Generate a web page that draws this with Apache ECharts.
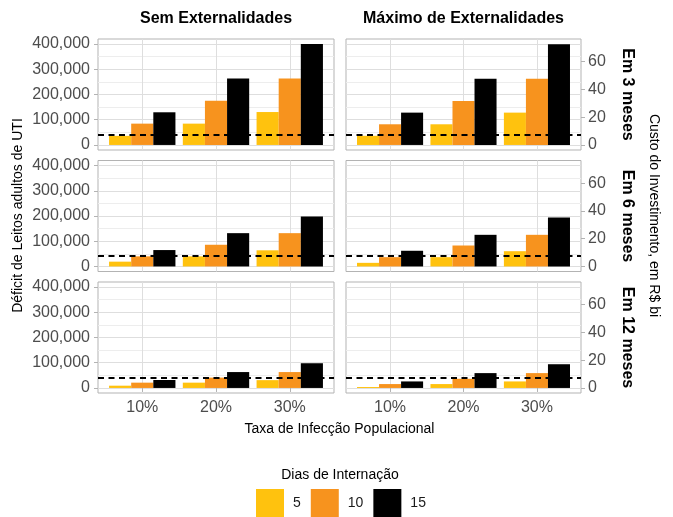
<!DOCTYPE html>
<html><head><meta charset="utf-8">
<script src="https://cdn.jsdelivr.net/npm/echarts@6/dist/echarts.min.js"></script>
<style>html,body{margin:0;padding:0;background:#fff}#c{width:673px;height:517px}</style>
</head><body><div id="c"></div>
<script>
// ---------------- data ----------------
const xCategories = ['10%', '20%', '30%'];
const xPositions = [1, 2, 3];
const seriesNames = ['5', '10', '15'];           // Dias de Internação
const rowLabels = ['Em 3 meses', 'Em 6 meses', 'Em 12 meses'];
const colLabels = ['Sem Externalidades', 'Máximo de Externalidades'];

// Sem Externalidades – déficit de leitos (leitos)
const sem3m_d5  = [36000, 84500, 130500];
const sem3m_d10 = [84500, 175000, 263000];
const sem3m_d15 = [129500, 263000, 400000];
const sem6m_d5  = [19000, 40000, 64000];
const sem6m_d10 = [40000, 86000, 132000];
const sem6m_d15 = [65000, 132000, 198000];
const sem12m_d5  = [9000, 21000, 31000];
const sem12m_d10 = [21000, 41000, 63000];
const sem12m_d15 = [31500, 63000, 98000];

// Máximo de Externalidades – custo do investimento (R$ bi)
const max3m_d5  = [6.6, 14.9, 23.3];
const max3m_d10 = [14.9, 31.7, 47.8];
const max3m_d15 = [23.3, 47.8, 72.5];
const max6m_d5  = [2.6, 6.7, 11.0];
const max6m_d10 = [6.7, 15.1, 22.8];
const max6m_d15 = [11.3, 22.8, 35.3];
const max12m_d5  = [0.7, 2.8, 4.7];
const max12m_d10 = [2.8, 6.6, 10.7];
const max12m_d15 = [4.7, 10.7, 17.1];

const dashLineBeds = 42000;            // linha tracejada (leitos)
const bedsPerBillion = 5500;           // eixo secundário: leitos por R$ bi

const leftTickValues = [0, 100000, 200000, 300000, 400000];
const leftTickLabels = ['0', '100,000', '200,000', '300,000', '400,000'];
const leftMinorValues = [50000, 150000, 250000, 350000];
const rightTickValues = [0, 20, 40, 60];
const rightTickLabels = ['0', '20', '40', '60'];

const semData = [[sem3m_d5, sem3m_d10, sem3m_d15], [sem6m_d5, sem6m_d10, sem6m_d15], [sem12m_d5, sem12m_d10, sem12m_d15]];
const maxData = [[max3m_d5, max3m_d10, max3m_d15], [max6m_d5, max6m_d10, max6m_d15], [max12m_d5, max12m_d10, max12m_d15]];

// ---------------- layout / style ----------------
const FONT = '"Liberation Sans", Arial, Helvetica, sans-serif';
const colors = ['#FFC20E', '#F7931E', '#000000'];
const yMin = -20000, yMax = 420000;
const colLeft = [98, 346], colWidth = [236, 235];
const rowTop = [39, 160.5, 282], rowH = 111;

const grids = [], xAxes = [], yAxes = [], series = [];

for (let r = 0; r < 3; r++) {
  for (let c = 0; c < 2; c++) {
    const gi = grids.length;
    grids.push({left: colLeft[c], top: rowTop[r], width: colWidth[c], height: rowH,
      show: true, borderColor: '#B3B3B3', borderWidth: 1, backgroundColor: '#fff'});
    xAxes.push({type: 'value', gridIndex: gi, min: 0.4, max: 3.6,
      axisLine: {show: false},
      axisTick: {show: r === 2, customValues: xPositions, length: 4, lineStyle: {color: '#B3B3B3'}},
      axisLabel: {show: r === 2, customValues: xPositions, margin: 7, color: '#4D4D4D', fontSize: 16, fontFamily: FONT,
        formatter: v => xCategories[xPositions.indexOf(v)]},
      splitLine: {show: true, lineStyle: {color: '#DEDEDE', width: 1}}});
    const idxA = yAxes.length;
    yAxes.push({type: 'value', gridIndex: gi, position: 'left', min: yMin, max: yMax,
      axisLine: {show: false},
      axisTick: {show: c === 0, customValues: leftTickValues, length: 4, lineStyle: {color: '#B3B3B3'}},
      axisLabel: {show: c === 0, customValues: leftTickValues, margin: 8, color: '#4D4D4D', fontSize: 16, fontFamily: FONT,
        formatter: v => leftTickLabels[leftTickValues.indexOf(v)]},
      splitLine: {show: true, lineStyle: {color: '#DEDEDE', width: 1}}});
    yAxes.push({type: 'value', gridIndex: gi, position: 'left', min: yMin, max: yMax,
      axisLine: {show: false},
      axisTick: {show: false, customValues: leftMinorValues},
      axisLabel: {show: false, customValues: leftMinorValues},
      splitLine: {show: true, lineStyle: {color: '#EDEDED', width: 1}}});
    let idxC = -1;
    if (c === 1) {
      idxC = yAxes.length;
      yAxes.push({type: 'value', gridIndex: gi, position: 'right', min: yMin / bedsPerBillion, max: yMax / bedsPerBillion,
        axisLine: {show: false},
        axisTick: {show: true, customValues: rightTickValues, length: 4, lineStyle: {color: '#B3B3B3'}},
        axisLabel: {show: true, customValues: rightTickValues, margin: 7, color: '#4D4D4D', fontSize: 16, fontFamily: FONT,
          formatter: v => rightTickLabels[rightTickValues.indexOf(v)]},
        splitLine: {show: false}});
    }
    const vals = c === 0 ? semData[r] : maxData[r];
    for (let k = 0; k < 3; k++) {
      const s = {type: 'bar', name: seriesNames[k], xAxisIndex: gi, yAxisIndex: c === 0 ? idxA : idxC,
        data: xPositions.map((x, j) => [x, vals[k][j]]),
        barWidth: '30%', barGap: '0%', itemStyle: {color: colors[k]}, silent: true};
      if (k === 2) {
        s.markLine = {silent: true, symbol: 'none', label: {show: false}, z: 10,
          lineStyle: {type: [6, 4.5], color: '#000', width: 2},
          data: [{yAxis: c === 0 ? dashLineBeds : dashLineBeds / bedsPerBillion}]};
      }
      series.push(s);
    }
  }
}

const txt = (x, y, text, opts) => ({type: 'text', x: x, y: y, rotation: opts.rot || 0,
  style: {text: text, fontFamily: FONT, fontSize: opts.size, fontWeight: opts.bold ? 'bold' : 'normal',
    fill: opts.color || '#000', align: 'center', verticalAlign: 'middle'}});

const graphics = [
  txt(216, 19, colLabels[0], {size: 16, bold: true}),
  txt(463.5, 19, colLabels[1], {size: 16, bold: true}),
  txt(627, rowTop[0] + rowH / 2, rowLabels[0], {size: 16, bold: true, rot: -Math.PI / 2}),
  txt(627, rowTop[1] + rowH / 2, rowLabels[1], {size: 16, bold: true, rot: -Math.PI / 2}),
  txt(627, rowTop[2] + rowH / 2, rowLabels[2], {size: 16, bold: true, rot: -Math.PI / 2}),
  txt(18, 215.5, 'Déficit de Leitos adultos de UTI', {size: 14, rot: Math.PI / 2}),
  txt(654, 215.5, 'Custo do Investimento, em R$ bi', {size: 14, rot: -Math.PI / 2}),
  txt(339.5, 429, 'Taxa de Infecção Populacional', {size: 14}),
  txt(340, 475, 'Dias de Internação', {size: 14})
];

const chart = echarts.init(document.getElementById('c'), null, {renderer: 'canvas'});
chart.setOption({
  animation: false,
  backgroundColor: '#fff',
  grid: grids,
  xAxis: xAxes,
  yAxis: yAxes,
  series: series,
  legend: {data: seriesNames, left: 256, top: 489, itemWidth: 28, itemHeight: 28, itemGap: 10, padding: 0,
    icon: 'rect', selectedMode: false,
    textStyle: {fontSize: 14, color: '#1A1A1A', fontFamily: FONT, padding: [0, 0, 0, 4]}},
  graphic: graphics
});
</script>
</body></html>
